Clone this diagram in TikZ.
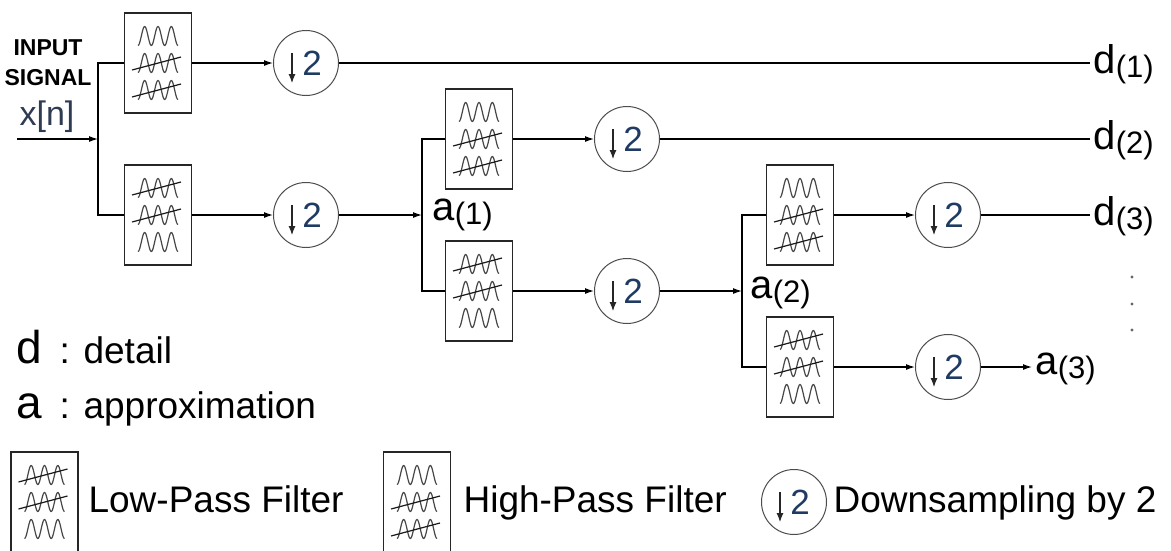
\documentclass[tikz,border=0pt]{standalone}
\usepackage{fontspec}
\setmainfont{Liberation Sans}
\usetikzlibrary{arrows.meta}
\definecolor{twoblue}{HTML}{1F3B63}
\definecolor{sigblue}{HTML}{2E3B52}
\newcommand{\coef}[2]{{\fontsize{40}{40}\selectfont #1}{\fontsize{31}{31}\selectfont\raisebox{-4pt}{(#2)}}}
\newcommand{\sines}{\foreach \dy in {-27,0,27}
  \draw[sine] plot[domain=0:1080,samples=61,smooth] ({-20+\x/1080*40},{\dy+9.5*cos(\x)});}
\tikzset{
  filt/.style={draw=black!85, line width=1.4pt, minimum width=67pt, minimum height=100pt, inner sep=0pt},
  sine/.style={draw=black!72, line width=1.2pt},
  strike/.style={draw=black!90, line width=1.2pt},
  hpf/.style={filt, path picture={
    \begin{scope}[shift={(path picture bounding box.center)}]
      \sines
      \draw[strike] (-26,7) -- (23,-6);
      \draw[strike] (-26,34) -- (23,21);
    \end{scope}}},
  lpf/.style={filt, path picture={
    \begin{scope}[shift={(path picture bounding box.center)}]
      \sines
      \draw[strike] (-26,-20) -- (23,-33);
      \draw[strike] (-26,7) -- (23,-6);
    \end{scope}}},
  down/.style={circle, draw=black!70, line width=1pt, minimum size=65pt, inner sep=0pt,
    text=twoblue, font=\fontsize{35}{35}\selectfont,
    path picture={\draw[black!85, line width=1.1pt, -{Latex[length=9pt,width=7pt]}]
      ([shift={(-14,-10)}]path picture bounding box.center) -- ++(0,30);}},
  lab/.style={inner sep=3pt, anchor=base west},
  arr/.style={-{Latex[length=9pt,width=6pt]}},
}

\begin{document}
\begin{tikzpicture}[x=1pt,y=-1pt,line width=1.2pt]
  \clip (0,0) rectangle (1171,550);
  \fill[white] (0,0) rectangle (1171,550);

  \node[font=\fontsize{23}{23}\selectfont\bfseries, anchor=base] (inp1) at (48,55) {INPUT};
  \node[font=\fontsize{23}{23}\selectfont\bfseries, anchor=base] (inp2) at (48,85) {SIGNAL};
  \node[font=\fontsize{34}{34}\selectfont, text=sigblue, anchor=base] (xn) at (47,125) {x[n]};
  \coordinate (in) at (17,139);

  \begin{scope}
    \coordinate (j1) at (98,139);
    \node[hpf] (hp1) at (158,63) {};
    \node[lpf] (lp1) at (158,215) {};
    \node[down] (dh1) at (306,63) {\hspace{12pt}2};
    \node[down] (dl1) at (306,215) {\hspace{12pt}2};
  \end{scope}

  \begin{scope}[shift={(321,76)}]
    \coordinate (j2) at (101,139);
    \node[hpf] (hp2) at (158,63) {};
    \node[lpf] (lp2) at (158,215) {};
    \node[down] (dh2) at (306,63) {\hspace{12pt}2};
    \node[down] (dl2) at (306,215) {\hspace{12pt}2};
  \end{scope}

  \begin{scope}[shift={(642,152)}]
    \coordinate (j3) at (100,139);
    \node[hpf] (hp3) at (158,63) {};
    \node[lpf] (lp3) at (158,215) {};
    \node[down] (dh3) at (306,63) {\hspace{12pt}2};
    \node[down] (dl3) at (306,215) {\hspace{12pt}2};
  \end{scope}

  \node[lab] (d1) at (1090,73) {\coef{d}{1}};
  \node[lab] (d2) at (1090,149) {\coef{d}{2}};
  \node[lab] (d3) at (1090,225) {\coef{d}{3}};
  \node[lab] (a1) at (429,220) {\coef{a}{1}};
  \node[lab] (a2) at (747,298) {\coef{a}{2}};
  \node[lab] (a3) at (1032,374) {\coef{a}{3}};

  \draw[arr] (in) -- (j1);
  \draw (hp1.west) -| (j1) |- (lp1.west);
  \draw[arr] (hp1) -- (dh1);
  \draw[arr] (lp1) -- (dl1);
  \draw (dh1) -- (dh1 -| d1.west);
  \draw[arr] (dl1) -- (j2);

  \draw (hp2.west) -| (j2) |- (lp2.west);
  \draw[arr] (hp2) -- (dh2);
  \draw[arr] (lp2) -- (dl2);
  \draw (dh2) -- (dh2 -| d2.west);
  \draw[arr] (dl2) -- (j3);

  \draw (hp3.west) -| (j3) |- (lp3.west);
  \draw[arr] (hp3) -- (dh3);
  \draw[arr] (lp3) -- (dl3);
  \draw (dh3) -- (dh3 -| d3.west);
  \draw[arr] (dl3) -- (dl3 -| a3.west);

  \foreach \y in {277,304,330}
    \fill[black!60] (1132,\y) circle (1.6);

  \node[anchor=base west, inner sep=0pt, font=\fontsize{46}{46}\selectfont] (dkey) at (16,363) {d};
  \node[anchor=base west, inner sep=0pt, font=\fontsize{37}{37}\selectfont] (dtxt) at (59,363) {: detail};
  \node[anchor=base west, inner sep=0pt, font=\fontsize{46}{46}\selectfont] (akey) at (16,418) {a};
  \node[anchor=base west, inner sep=0pt, font=\fontsize{37}{37}\selectfont] (atxt) at (59,418) {: approximation};

  \node[lpf] (keylp) at (44.5,502) {};
  \node[anchor=base west, inner sep=0pt, font=\fontsize{37}{37}\selectfont] (keylpt) at (88,512) {Low-Pass Filter};
  \node[hpf] (keyhp) at (417,502) {};
  \node[anchor=base west, inner sep=0pt, font=\fontsize{37}{37}\selectfont] (keyhpt) at (463,512) {High-Pass Filter};
  \node[down] (keyds) at (794,502) {\hspace{12pt}2};
  \node[anchor=base west, inner sep=0pt, font=\fontsize{37}{37}\selectfont] (keydst) at (833,512) {Downsampling by 2};
\end{tikzpicture}
\end{document}
